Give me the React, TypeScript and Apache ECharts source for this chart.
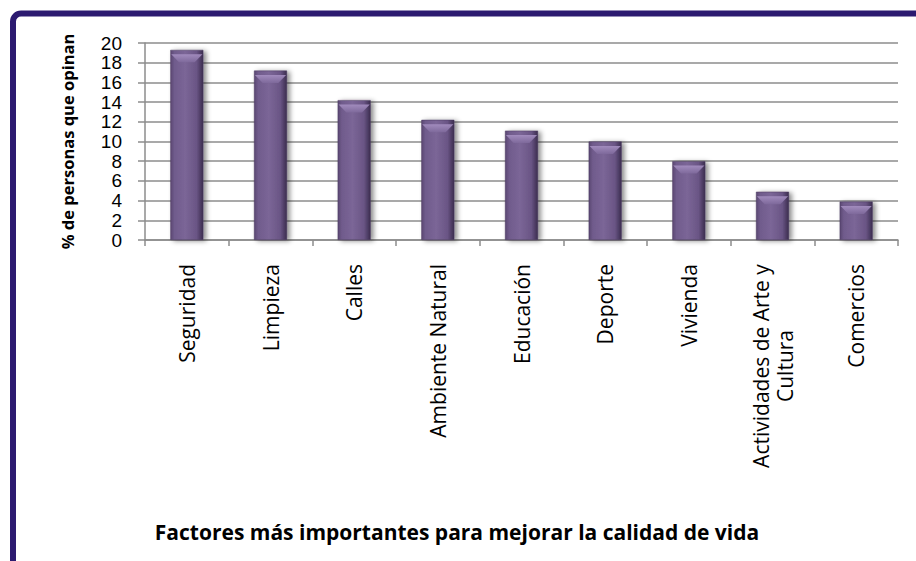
import React, { useEffect, useRef } from "react";
import * as echarts from "echarts";

const categories = [
  "Seguridad",
  "Limpieza",
  "Calles",
  "Ambiente Natural",
  "Educación",
  "Deporte",
  "Vivienda",
  "Actividades de Arte y\nCultura",
  "Comercios",
];
const values = [19.3, 17.2, 14.2, 12.2, 11.1, 10.0, 8.0, 4.9, 3.9];
const yTicks = { min: 0, max: 20, interval: 2 };
const yAxisName = "% de personas que opinan";
const xAxisTitle = "Factores más importantes para mejorar la calidad de vida";

const LABEL_FONT = "21px 'Open Sans'";

function measure(text: string): number {
  const c = document.createElement("canvas").getContext("2d");
  if (!c) return text.length * 10;
  c.font = LABEL_FONT;
  return c.measureText(text).width;
}

export default function App() {
  const ref = useRef<HTMLDivElement>(null);
  useEffect(() => {
    if (!ref.current) return;
    const chart = echarts.init(ref.current, null, { renderer: "svg" });
    const barGrad = new echarts.graphic.LinearGradient(0, 0, 1, 0, [
      { offset: 0, color: "#5a4772" },
      { offset: 0.12, color: "#705b8c" },
      { offset: 0.45, color: "#7b6697" },
      { offset: 0.8, color: "#6a5585" },
      { offset: 1, color: "#3b2d4f" },
    ]);
    const capGrad = new echarts.graphic.LinearGradient(0, 0, 0, 1, [
      { offset: 0, color: "#a690c2" },
      { offset: 1, color: "#7f6a9c" },
    ]);
    const longest = Math.ceil(
      Math.max(...categories.flatMap((c) => c.split("\n")).map(measure))
    );
    chart.setOption({
      animation: false,
      backgroundColor: "#ffffff",
      grid: { left: 145, right: 18, top: 43, bottom: 321, containLabel: false },
      title: {
        text: xAxisTitle,
        left: 452,
        top: 516,
        textAlign: "center",
        textStyle: {
          fontFamily: "Open Sans",
          fontWeight: "bold",
          fontSize: 21,
          color: "#000",
        },
      },
      xAxis: {
        type: "category",
        data: categories,
        axisLine: { lineStyle: { color: "#8c8c8c", width: 1.5 } },
        axisTick: { show: true, length: 6, lineStyle: { color: "#8c8c8c", width: 1.5 } },
        axisLabel: {
          rotate: 90,
          interval: 0,
          margin: 24,
          fontFamily: "Open Sans",
          fontSize: 21,
          color: "#000",
          align: "right",
          verticalAlign: "middle",
          lineHeight: 24,
          formatter: (v: string) => {
            const lines = v.split("\n");
            if (lines.length < 2) return v;
            return lines.map((l) => "{c|" + l + "}").join("\n");
          },
          rich: {
            c: {
              fontFamily: "Open Sans",
              fontSize: 21,
              color: "#000",
              lineHeight: 24,
              align: "center",
              width: longest,
            },
          },
        },
      },
      yAxis: {
        type: "value",
        min: yTicks.min,
        max: yTicks.max,
        interval: yTicks.interval,
        name: yAxisName,
        nameLocation: "middle",
        nameRotate: 90,
        nameGap: 69,
        nameTextStyle: {
          fontFamily: "Open Sans",
          fontWeight: "bold",
          fontSize: 16.5,
          color: "#000",
        },
        axisLine: { show: true, lineStyle: { color: "#8c8c8c", width: 1.5 } },
        axisTick: { show: true, length: 7, lineStyle: { color: "#8c8c8c", width: 1.5 } },
        axisLabel: {
          margin: 23,
          fontFamily: "Liberation Sans",
          fontSize: 19,
          lineHeight: 17,
          color: "#000",
          showMinLabel: true,
          showMaxLabel: true,
          hideOverlap: false,
        },
        splitLine: { show: true, lineStyle: { color: "#8c8c8c", width: 1.5 } },
      },
      series: [
        {
          type: "bar",
          data: values,
          barWidth: 33,
          barGap: "-100%",
          itemStyle: {
            color: barGrad,
            borderColor: "#4a3a5e",
            borderWidth: 0.5,
            shadowColor: "rgba(0,0,0,0.45)",
            shadowBlur: 5,
            shadowOffsetX: 3,
            shadowOffsetY: 1,
          },
        },
        {
          type: "pictorialBar",
          data: values,
          symbol: "path://M0,0 L10,0 L7.5,3 L2.5,3 Z",
          symbolSize: [31, 8],
          symbolPosition: "end",
          symbolOffset: [0, "55%"],
          barGap: "-100%",
          z: 3,
          itemStyle: { color: capGrad, opacity: 0.9 },
        },
      ],
      graphic: [
        {
          type: "rect",
          shape: { x: 13, y: 13.5, width: 1000, height: 700, r: 8 },
          style: { fill: "none", stroke: "#2c1a70", lineWidth: 6 },
          z: 10,
        },
      ],
    });
    return () => chart.dispose();
  }, []);
  return (
    <div
      ref={ref}
      style={{ position: "fixed", left: 0, top: 0, width: 916, height: 561 }}
    />
  );
}
